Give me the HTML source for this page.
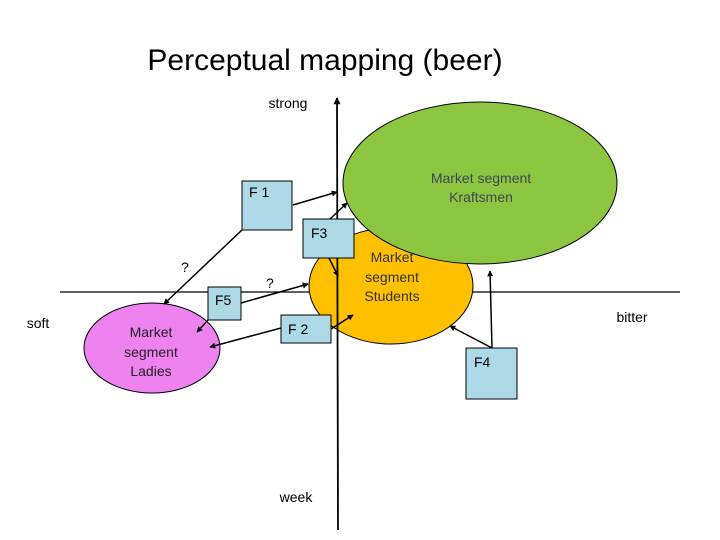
<!DOCTYPE html>
<html><head><style>body{margin:0;background:#fff}svg{display:block}text{font-family:"Liberation Sans",sans-serif}</style></head><body>
<svg width="720" height="540" viewBox="0 0 720 540">
<defs><marker id="a" markerWidth="4" markerHeight="4" refX="3.5" refY="2" orient="auto"><path d="M0,0L4,2L0,4z" fill="#000"/></marker></defs>
<text x="325" y="70" font-size="30" text-anchor="middle">Perceptual mapping (beer)</text>
<text x="288" y="108" font-size="14" text-anchor="middle">strong</text>
<text x="38" y="328" font-size="14" text-anchor="middle">soft</text>
<text x="632" y="322" font-size="14" text-anchor="middle">bitter</text>
<text x="296" y="502" font-size="14" text-anchor="middle">week</text>
<line x1="60" y1="292" x2="680" y2="292" stroke="#000" stroke-width="1.3"/>
<ellipse cx="152" cy="348" rx="68" ry="45" fill="#ee82ee" stroke="#000"/>
<text font-size="14" text-anchor="middle" fill="#222"><tspan x="151" y="337">Market</tspan><tspan x="151" y="357">segment</tspan><tspan x="151" y="376">Ladies</tspan></text>
<ellipse cx="391" cy="286" rx="82" ry="58" fill="#ffc000" stroke="#000"/>
<line x1="338" y1="530" x2="337" y2="98" stroke="#000" stroke-width="1.8" marker-end="url(#a)"/>
<ellipse cx="480" cy="183" rx="137" ry="81" fill="#8cc640" stroke="#000"/>
<text font-size="14" text-anchor="middle" fill="#333"><tspan x="392" y="262">Market</tspan><tspan x="392" y="282">segment</tspan><tspan x="392" y="301">Students</tspan></text>
<text font-size="14" text-anchor="middle" fill="#445"><tspan x="481" y="183">Market segment</tspan><tspan x="481" y="202">Kraftsmen</tspan></text>
<g fill="#add8e6" stroke="#000">
<rect x="242" y="181" width="50" height="49"/>
<rect x="303" y="219" width="51" height="39"/>
<rect x="208" y="287" width="33" height="33"/>
<rect x="281" y="315" width="50" height="28"/>
<rect x="466" y="348" width="51" height="51"/>
</g>
<g font-size="14"><text x="249" y="197">F 1</text><text x="311" y="238">F3</text><text x="215" y="305">F5</text><text x="288" y="334">F 2</text><text x="474" y="367">F4</text>
<text x="181" y="272">?</text><text x="266" y="288">?</text></g>
<g stroke="#000" stroke-width="1.5" marker-end="url(#a)">
<line x1="293" y1="205" x2="337" y2="192"/>
<line x1="242" y1="230" x2="164" y2="304"/>
<line x1="330" y1="219" x2="347" y2="203"/>
<line x1="329" y1="258" x2="338" y2="276"/>
<line x1="241" y1="303" x2="308" y2="284"/>
<line x1="208" y1="320" x2="197" y2="332"/>
<line x1="281" y1="328" x2="210" y2="347"/>
<line x1="331" y1="329" x2="353" y2="315"/>
<line x1="492" y1="348" x2="490" y2="271"/>
<line x1="492" y1="348" x2="450" y2="326"/>
</g>
</svg>
</body></html>
